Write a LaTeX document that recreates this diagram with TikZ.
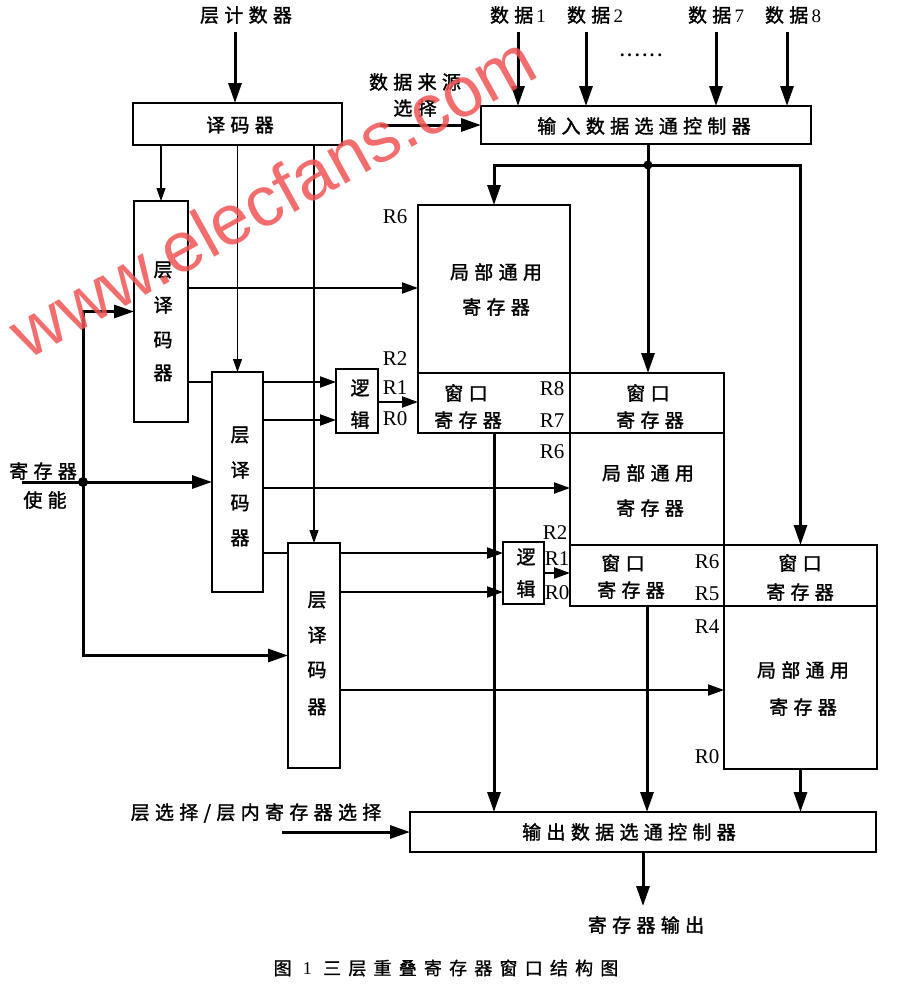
\documentclass[tikz,border=0pt]{standalone}
\usepackage{fontspec}
\setmainfont{Liberation Serif}
\newfontfamily\cjk[LetterSpace=28,FakeBold=1.5]{Noto Sans CJK SC}
\newfontfamily\cjkcap[LetterSpace=40,FakeBold=1]{Noto Sans CJK SC}
\newfontfamily\wmfont{Liberation Sans}
\usetikzlibrary{arrows.meta}
\definecolor{wmred}{RGB}{240,85,85}
\begin{document}
\begin{tikzpicture}[x=1pt,y=-1pt,
  box/.style={draw, line width=1.6pt, fill=white, inner sep=0pt, outer sep=0pt, anchor=north west},
  lbl/.style={font=\cjk\fontsize{19}{21}\selectfont, inner sep=0pt},
  reg/.style={font=\fontsize{21}{23}\selectfont, inner sep=0pt},
  thk/.style={line width=3pt, -{Triangle[length=20pt,width=13pt]}},
  thkl/.style={line width=3pt},
  mid/.style={line width=2pt, -{Triangle[length=16pt,width=11pt]}},
  midl/.style={line width=2pt},
  thn/.style={line width=1.2pt, -{Triangle[length=13pt,width=9pt]}},
  ]
\useasboundingbox (0,0) rectangle (898,993);
% ---------- boxes ----------
\node[box, minimum width=209pt, minimum height=42pt] (dec) at (133,103) {};
\node[box, minimum width=330pt, minimum height=38pt] (in)  at (481,106) {};
\node[box, minimum width=54pt,  minimum height=221pt] (L1) at (134,201) {};
\node[box, minimum width=51pt,  minimum height=220pt] (L2) at (212,372) {};
\node[box, minimum width=52pt,  minimum height=225pt] (L3) at (288,543) {};
\node[box, minimum width=152pt, minimum height=168pt] (G1) at (418,205) {};
\node[box, minimum width=152pt, minimum height=60pt]  (W1) at (418,373) {};
\node[box, minimum width=154pt, minimum height=60pt]  (W2) at (570,373) {};
\node[box, minimum width=154pt, minimum height=112pt] (G2) at (570,433) {};
\node[box, minimum width=154pt, minimum height=61pt]  (W2b) at (570,545) {};
\node[box, minimum width=153pt, minimum height=61pt]  (W3) at (724,545) {};
\node[box, minimum width=153pt, minimum height=163pt] (G3) at (724,606) {};
\node[box, minimum width=42pt,  minimum height=64pt]  (lg1) at (336,369) {};
\node[box, minimum width=41pt,  minimum height=62pt]  (lg2) at (503,542) {};
\node[box, minimum width=466pt, minimum height=40pt]  (out) at (410,812) {};
% ---------- texts ----------
\node[lbl] (tcnt) at (246,15) {层计数器};
\node[lbl] (tdec) at (240,125) {译码器};
\node[lbl] (d1) at (518,15) {数据\,{\rmfamily 1}};
\node[lbl] (d2) at (595,15) {数据\,{\rmfamily 2}};
\node[lbl] (d7) at (716,15) {数据\,{\rmfamily 7}};
\node[lbl] (d8) at (793,15) {数据\,{\rmfamily 8}};
\node[font=\bfseries\fontsize{18}{20}\selectfont, inner sep=0pt] (dots) at (641,55) {.\kern3pt.\kern3pt.\kern3pt.\kern3pt.\kern3pt.};
\node[lbl] (ds1) at (415,82) {数据来源};
\node[lbl] (ds2) at (415,108) {选择};
\node[lbl] (tin) at (644,126) {输入数据选通控制器};
\node[lbl] (g1a) at (496,272) {局部通用};
\node[lbl] (g1b) at (496,307) {寄存器};
\node[lbl] (w1a) at (466,393) {窗口};
\node[lbl] (w1b) at (468,420) {寄存器};
\node[lbl] (w2a) at (648,393) {窗口};
\node[lbl] (w2b) at (650,420) {寄存器};
\node[lbl] (g2a) at (648,473) {局部通用};
\node[lbl] (g2b) at (650,508) {寄存器};
\node[lbl] (w4a) at (623,563) {窗口};
\node[lbl] (w4b) at (631,590) {寄存器};
\node[lbl] (w3a) at (800,563) {窗口};
\node[lbl] (w3b) at (800,592) {寄存器};
\node[lbl] (g3a) at (803,670) {局部通用};
\node[lbl] (g3b) at (803,707) {寄存器};
\foreach \c/\y [count=\i] in {层/270,译/305,码/340,器/373} \node[lbl] (L1t\i) at (163,\y) {\c};
\foreach \c/\y [count=\i] in {层/435,译/470,码/503,器/538} \node[lbl] (L2t\i) at (240,\y) {\c};
\foreach \c/\y [count=\i] in {层/600,译/635,码/670,器/707} \node[lbl] (L3t\i) at (317,\y) {\c};
\node[lbl] (lg1a) at (360,388) {逻};
\node[lbl] (lg1b) at (360,420) {辑};
\node[lbl] (lg2a) at (526,557) {逻};
\node[lbl] (lg2b) at (526,589) {辑};
\node[lbl] (en1) at (43,471) {寄存器};
\node[lbl] (en2) at (45,500) {使能};
\node[lbl] (sel) at (256,813) {层选择/层内寄存器选择};
\node[lbl] (tout) at (629,832) {输出数据选通控制器};
\node[lbl] (regout) at (646,925) {寄存器输出};
\node[font=\cjkcap\fontsize{18}{20}\selectfont, inner sep=0pt] (cap) at (446,968) {图\ {\rmfamily 1}\ 三层重叠寄存器窗口结构图};
% R labels
\node[reg] (r1) at (395,217) {R6};
\node[reg] (r2) at (395,359) {R2};
\node[reg] (r3) at (395,388) {R1};
\node[reg] (r4) at (395,419) {R0};
\node[reg] (r5) at (552,389) {R8};
\node[reg] (r6) at (552,421) {R7};
\node[reg] (r7) at (552,452) {R6};
\node[reg] (r8) at (555,533) {R2};
\node[reg] (r9) at (557,559) {R1};
\node[reg] (r10) at (557,593) {R0};
\node[reg] (r11) at (707,562) {R6};
\node[reg] (r12) at (707,594) {R5};
\node[reg] (r13) at (707,627) {R4};
\node[reg] (r14) at (707,757) {R0};
% ---------- connectors ----------
\coordinate (cntA) at (235,32);
\draw[thk] (cntA) -- (cntA |- dec.north);
\foreach \x [count=\i] in {518,586,716,787} {
  \coordinate (a\i) at (\x,32);
  \draw[thk] (a\i) -- (a\i |- in.north);
}
\coordinate (dsA) at (380,125);
\draw[thk] (dsA) -- (in.west);
\coordinate (J) at (648,165);
\draw[thkl] (in.south -| J) -- (J);
\draw[thk] (J) -| (G1.north);
\draw[thk] (J) -- (J |- W2.north);
\draw[thk] (J) -| (W3.north);
\fill (J) circle (4.5);
% enable
\coordinate (Es) at (22,482);
\coordinate (E) at (83,482);
\draw[thk] (Es) -- (L2.west);
\draw[thk] (E) |- (L1.west);
\draw[thk] (E) |- (L3.west);
\fill (E) circle (5);
% decoder lines
\draw[thn] (dec.south -| L1.north) -- (L1.north);
\draw[thn] (dec.south -| L2.north) -- (L2.north);
\draw[thn] (dec.south -| L3.north) -- (L3.north);
% layer decoder outputs
\draw[mid] (L1.east |- 0,288) -- (G1.west |- 0,288);
\draw[midl] (L1.east |- 0,382) -- (L2.west |- 0,382);
\draw[mid] (L2.east |- 0,382) -- (lg1.west |- 0,382);
\draw[mid] (L2.east |- 0,420) -- (lg1.west |- 0,420);
\draw[mid] (L2.east |- 0,488) -- (G2.west |- 0,488);
\draw[midl] (L2.east |- 0,553) -- (L3.west |- 0,553);
\draw[mid] (L3.east |- 0,553) -- (lg2.west |- 0,553);
\draw[mid] (L3.east |- 0,592) -- (lg2.west |- 0,592);
\draw[mid] (L3.east |- 0,690) -- (G3.west |- 0,690);
\draw[mid] (lg1.east |- 0,402) -- (W1.west |- 0,402);
\draw[mid] (lg2.east |- 0,573) -- (W2b.west |- 0,573);
% outputs
\draw[thk] (W1.south) -- (W1.south |- out.north);
\draw[thk] (W2b.south) -- (W2b.south |- out.north);
\draw[thk] (G3.south) -- (G3.south |- out.north);
\coordinate (selA) at (282,832);
\draw[thk] (selA) -- (out.west);
\coordinate (outA) at (643,906);
\draw[thk] (out.south) -- (outA);
% watermark
\node[rotate=29, text=wmred, opacity=0.85, inner sep=0pt, font=\wmfont\fontsize{71}{71}\selectfont] (wm) at (272,196) {www.elecfans.com};
\end{tikzpicture}
\end{document}
